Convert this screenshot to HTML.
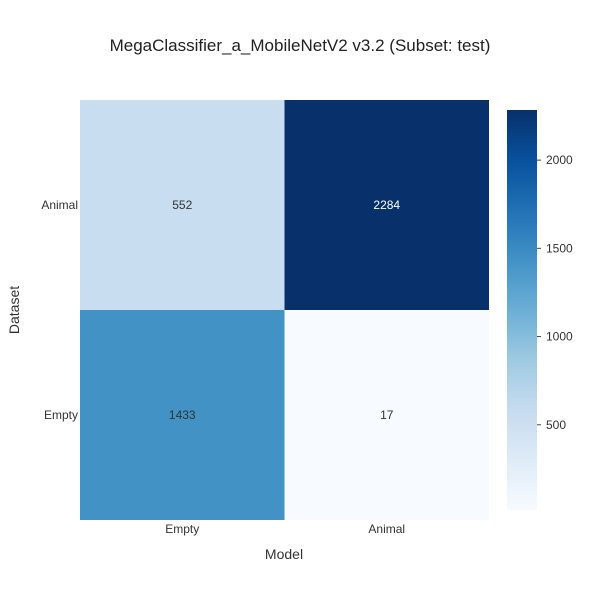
<!DOCTYPE html>
<html><head><meta charset="utf-8">
<style>
body{margin:0;background:#fff;font-family:"Liberation Sans",sans-serif;}
svg text{font-family:"Liberation Sans",sans-serif;}
</style></head>
<body>
<svg id="chart" width="600" height="600" viewBox="0 0 600 600">
<rect width="600" height="600" fill="#fff"/>
<text x="300" y="51" text-anchor="middle" font-size="17" fill="#222">MegaClassifier_a_MobileNetV2 v3.2 (Subset: test)</text>
<g id="cells"></g>
<g id="cbar"></g>
<text x="284" y="559" text-anchor="middle" font-size="14" fill="#333">Model</text>
<text transform="translate(19,310) rotate(-90)" text-anchor="middle" font-size="14" fill="#333">Dataset</text>
</svg>
<script>
const xCats=["Empty","Animal"];
const yCats=["Animal","Empty"];
const zRow0=[552,2284];
const zRow1=[1433,17];
const cbTicks=[500,1000,1500,2000];

const NS="http://www.w3.org/2000/svg";
const stops=[[0,[247,251,255]],[0.125,[222,235,247]],[0.25,[198,219,239]],[0.375,[158,202,225]],[0.5,[107,174,214]],[0.625,[66,146,198]],[0.75,[33,113,181]],[0.875,[8,81,156]],[1,[8,48,107]]];
function col(t){t=Math.max(0,Math.min(1,t));for(let i=1;i<stops.length;i++){if(t<=stops[i][0]){const a=stops[i-1],b=stops[i];const f=(t-a[0])/(b[0]-a[0]);return "rgb("+a[1].map((v,k)=>Math.round(v+(b[1][k]-v)*f)).join(",")+")";}}return "rgb(8,48,107)";}
function mk(tag,attrs,parent){const e=document.createElementNS(NS,tag);for(const k in attrs)e.setAttribute(k,attrs[k]);parent.appendChild(e);return e;}
const z=[zRow0,zRow1];
const all=zRow0.concat(zRow1);
const zmin=Math.min(...all),zmax=Math.max(...all);
const X0=80,X1=489,Y0=100,Y1=520;
const cw=(X1-X0)/xCats.length,ch=(Y1-Y0)/yCats.length;
const xs=i=>X0+i*cw, ys=j=>Y0+j*ch;
const g=document.getElementById('cells');
z.forEach((row,j)=>row.forEach((v,i)=>{
  const t=(v-zmin)/(zmax-zmin);
  const r=mk('rect',{x:xs(i),y:ys(j),width:cw,height:ch,fill:col(t)},g);
  
  
  const tx=mk('text',{x:xs(i)+cw/2,y:ys(j)+ch/2+4,'text-anchor':'middle','font-size':12,fill:t>0.8?'#fff':'#333'},g);
  tx.textContent=v;
  
  
}));
xCats.forEach((c,i)=>{const t=mk('text',{x:xs(i)+cw/2,y:533,'text-anchor':'middle','font-size':12,fill:'#333'},g);t.textContent=c;

});
yCats.forEach((c,j)=>{const t=mk('text',{x:78,y:ys(j)+ch/2+4,'text-anchor':'end','font-size':12,fill:'#333'},g);t.textContent=c;

});
const cb=document.getElementById('cbar');
const CBX=507,CBW=30,CBT=110,CBB=510;
const defs=mk('defs',{},cb);
const lg=mk('linearGradient',{id:'cbg',x1:0,y1:1,x2:0,y2:0},defs);
stops.forEach(s=>mk('stop',{offset:s[0],'stop-color':col(s[0])},lg));
const cr=mk('rect',{x:CBX,y:CBT,width:CBW,height:CBB-CBT,fill:'url(#cbg)'},cb);


const cy=v=>CBB-(v-zmin)/(zmax-zmin)*(CBB-CBT);
cbTicks.forEach(v=>{
  mk('line',{x1:CBX+CBW,x2:CBX+CBW+4,y1:cy(v),y2:cy(v),stroke:'#444'},cb);
  const t=mk('text',{x:CBX+CBW+9,y:cy(v)+4,'font-size':12,fill:'#333'},cb);t.textContent=v;
  
  
});
</script>
</body></html>
